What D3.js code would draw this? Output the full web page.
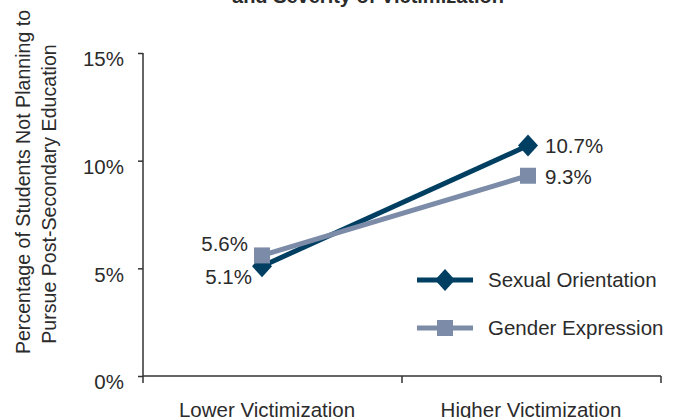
<!DOCTYPE html>
<html>
<head>
<meta charset="utf-8">
<script src="https://cdn.jsdelivr.net/npm/d3@7"></script>
<style>
  html, body { margin: 0; padding: 0; background: #ffffff; }
  svg { display: block; }
  text { font-family: "Liberation Sans", Arial, sans-serif; fill: #2b2b2b; }
</style>
</head>
<body>
<script>
const categories = ["Lower Victimization", "Higher Victimization"];
const seriesNames = ["Sexual Orientation", "Gender Expression"];
const sexualOrientation = [5.1, 10.7];
const genderExpression = [5.6, 9.3];
const yTicks = [0, 5, 10, 15];
const titleText = "and Severity of Victimization";
const yTitleLines = ["Percentage of Students Not Planning to", "Pursue Post-Secondary Education"];

const W = 673, H = 418;
const colors = ["#003f62", "#7c8ca8"];

const svg = d3.select("body").append("svg").attr("width", W).attr("height", H);

const y = d3.scaleLinear().domain([0, 15]).range([376, 53]);
const xAxisScale = d3.scaleBand().domain(categories).range([143, 661]);
const x = d3.scalePoint().domain(categories).range([262, 528]);

// title (cut off at top)
svg.append("text").attr("x", 368).attr("y", 3).attr("text-anchor", "middle")
  .style("font-weight", "bold").style("font-size", "20px").text(titleText);

// y axis
const yAxis = d3.axisLeft(y).tickValues(yTicks).tickSize(5).tickPadding(14)
  .tickFormat(d => d + "%");
const gy = svg.append("g").attr("transform", "translate(143,0)").call(yAxis);
gy.select(".domain").attr("stroke", "#333").attr("stroke-width", 1.5).attr("d", "M0,53V383");
gy.selectAll(".tick line").attr("stroke", "#333").attr("stroke-width", 1.5);
gy.selectAll(".tick text").style("font-size", "20.5px").attr("fill", "#2b2b2b").attr("dy", "0.62em")
  .attr("y", 0).attr("fill", "#2b2b2b");

// x axis
const xAxis = d3.axisBottom(xAxisScale).tickSize(7).tickFormat("");
const gx = svg.append("g").attr("transform", "translate(0,376)").call(xAxis);
gx.select(".domain").attr("stroke", "#333").attr("stroke-width", 1.5).attr("d", "M143,0H661");
gx.selectAll(".tick").remove();
const boundaries = [143].concat(categories.map(c => xAxisScale(c) + xAxisScale.bandwidth()));
gx.selectAll("line.bt").data(boundaries.slice(1)).enter().append("line")
  .attr("x1", d => d).attr("x2", d => d).attr("y1", 0).attr("y2", 7)
  .attr("stroke", "#333").attr("stroke-width", 1.5);

svg.selectAll("text.cat").data(categories).enter().append("text")
  .attr("class", "cat").attr("x", d => x(d) + (d === categories[0] ? 5 : 3)).attr("y", 417)
  .attr("text-anchor", "middle").style("font-size", "20.5px").text(d => d);

// y axis title
yTitleLines.forEach((t, i) => {
  svg.append("text")
    .attr("transform", `translate(${30 + i * 26},${i === 0 ? 182 : 194}) rotate(-90)`)
    .attr("text-anchor", "middle").style("font-size", "19.6px").text(t);
});

// lines
const series = [sexualOrientation, genderExpression];
const line = d3.line().x((d, i) => x(categories[i])).y(d => y(d));
series.forEach((vals, s) => {
  svg.append("path").datum(vals).attr("d", line).attr("fill", "none")
    .attr("stroke", colors[s]).attr("stroke-width", 5);
});

function diamond(cx, cy) {
  return `M${cx},${cy - 11}L${cx + 10},${cy}L${cx},${cy + 11}L${cx - 10},${cy}Z`;
}
function square(cx, cy) {
  return `M${cx - 8},${cy - 8}h16v16h-16Z`;
}
const markers = [diamond, square];
series.forEach((vals, s) => {
  svg.selectAll(null).data(vals).enter().append("path")
    .attr("d", (d, i) => markers[s](x(categories[i]), y(d)))
    .attr("fill", colors[s]);
});

// data labels
const fmt = d => d.toFixed(1) + "%";
// Sexual orientation
svg.append("text").attr("x", 252).attr("y", y(sexualOrientation[0]) + 18).attr("text-anchor", "end")
  .style("font-size", "20.5px").text(fmt(sexualOrientation[0]));
svg.append("text").attr("x", 545).attr("y", y(sexualOrientation[1]) + 7).attr("text-anchor", "start")
  .style("font-size", "20.5px").text(fmt(sexualOrientation[1]));
// Gender expression
svg.append("text").attr("x", 248).attr("y", y(genderExpression[0]) - 4).attr("text-anchor", "end")
  .style("font-size", "20.5px").text(fmt(genderExpression[0]));
svg.append("text").attr("x", 545).attr("y", y(genderExpression[1]) + 8).attr("text-anchor", "start")
  .style("font-size", "20.5px").text(fmt(genderExpression[1]));

// legend
const legY = [280, 328];
seriesNames.forEach((n, s) => {
  const g = svg.append("g");
  g.append("line").attr("x1", 417).attr("x2", 473).attr("y1", legY[s]).attr("y2", legY[s])
    .attr("stroke", colors[s]).attr("stroke-width", 5);
  g.append("path").attr("d", markers[s](445, legY[s])).attr("fill", colors[s]);
  g.append("text").attr("x", 488).attr("y", legY[s] + 7).style("font-size", "20.5px").text(n);
});
</script>
</body>
</html>
